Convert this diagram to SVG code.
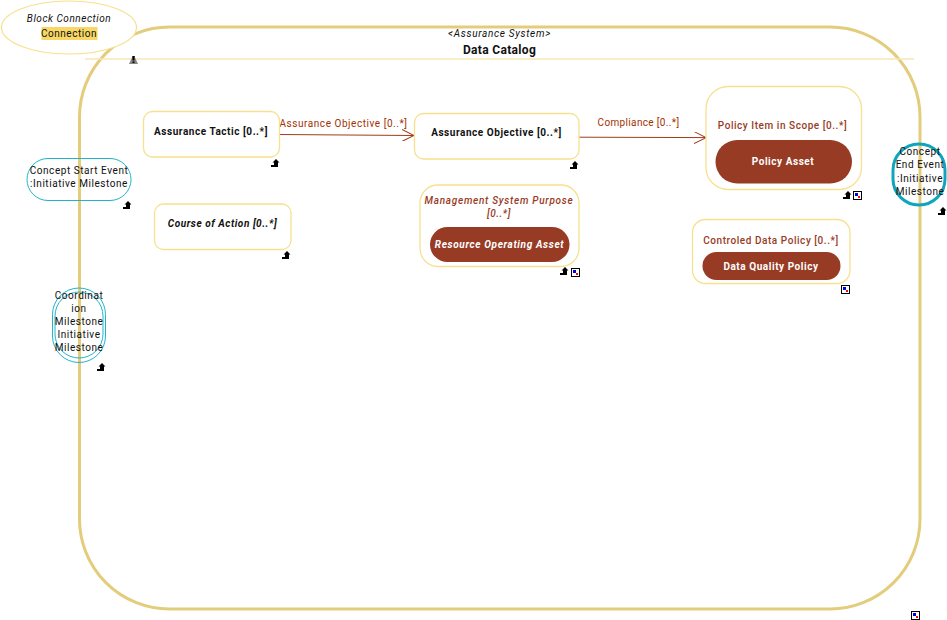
<svg xmlns="http://www.w3.org/2000/svg" width="947" height="620" viewBox="0 0 947 620">
<style>
text{font-family:Roboto,"Liberation Sans",sans-serif;font-size:10px;text-anchor:middle;letter-spacing:.55px;fill:#111}
.b{font-weight:700}.i{font-style:italic}
.box{fill:#fff;stroke:#f7e08f;stroke-width:1.3}
.pill{fill:#973b25}
.w{fill:#fff;font-weight:700}
.r{fill:#973b25;font-weight:500}
.lab{fill:#a33000}
.ms{fill:none;stroke:#22b3cc;stroke-width:1}
.conn{fill:none;stroke:#a33a1c;stroke-width:1}
</style>
<defs>
<g id="up"><path d="M0 7V5H3V2.500H1.500L5 -1L8.500 2.500H7V7Z" fill="#000"/></g>
<g id="sq"><rect x="0.500" y="0.500" width="8" height="8" fill="#fff" stroke="#000" stroke-width="1"/><rect x="2" y="2" width="3" height="3" fill="#0000e0"/><rect x="5" y="5" width="2" height="2" fill="#e01010"/></g>
<marker id="arr" markerWidth="13" markerHeight="12" refX="12" refY="6" orient="auto" markerUnits="userSpaceOnUse"><path d="M0 0L12 6L0 12" fill="none" stroke="#a33a1c" stroke-width="1"/></marker>
</defs>
<g id="data-catalog">
<rect x="79.500" y="27" width="840.500" height="582" rx="90" ry="90" fill="#fff" stroke="#e3cd7c" stroke-width="3"/>
<path d="M85 59H914" stroke="#f6e7b5" stroke-width="1.500" fill="none"/>
<text x="499.500" y="37" class="i" style="letter-spacing:.7px">&lt;Assurance System&gt;</text>
<text x="499.500" y="54" class="b" style="font-size:12px;letter-spacing:.33px">Data Catalog</text>
<path d="M129 64L132 57.500V56H135V57.500L138 64Z" fill="#888"/>
<path d="M132.500 56H134.500V60.500H132.500ZM132.500 61.500H134.500V63H132.500Z" fill="#000"/>
<use href="#sq" x="911" y="611"/>
</g>
<g id="block-connection">
<ellipse cx="69" cy="27.500" rx="67.500" ry="26.500" fill="#fff" stroke="#f7e08f" stroke-width="1.200"/>
<text x="69" y="21.500" class="i">Block Connection</text>
<rect x="41.500" y="27" width="56" height="13" fill="#f8d765"/>
<text x="69" y="37">Connection</text>
</g>
<g id="connectors">
<path class="conn" d="M279 134.500L414 135.500" marker-end="url(#arr)"/>
<path class="conn" d="M579 137.200L706 137.600" marker-end="url(#arr)"/>
<text x="343.500" y="127" class="lab">Assurance Objective [0..*]</text>
<text x="638.500" y="126" class="lab" style="letter-spacing:.35px">Compliance [0..*]</text>
</g>
<g id="assurance-tactic">
<rect class="box" x="143.500" y="111.500" width="136" height="45.500" rx="9"/>
<text x="211" y="135" class="b">Assurance Tactic [0..*]</text>
<use href="#up" x="271" y="160"/>
</g>
<g id="assurance-objective">
<rect class="box" x="414.500" y="113.500" width="164.500" height="45.500" rx="9"/>
<text x="496.500" y="136" class="b">Assurance Objective [0..*]</text>
<use href="#up" x="570" y="162"/>
</g>
<g id="policy-item">
<rect class="box" x="706" y="86.500" width="155.500" height="103" rx="22"/>
<text x="782.500" y="129" class="r">Policy Item in Scope [0..*]</text>
<rect class="pill" x="715.500" y="140" width="136.500" height="43.500" rx="21.750"/>
<text x="783" y="165" class="w">Policy Asset</text>
<use href="#up" x="843" y="192"/>
<use href="#sq" x="853" y="191"/>
</g>
<g id="course-of-action">
<rect class="box" x="154.500" y="204" width="136.500" height="45.500" rx="9"/>
<text x="222.500" y="227" class="b i">Course of Action [0..*]</text>
<use href="#up" x="282" y="252"/>
</g>
<g id="management-system-purpose">
<rect class="box" x="420" y="185" width="159" height="81.500" rx="18"/>
<text x="499" y="204" class="r i" style="letter-spacing:.72px">Management System Purpose</text>
<text x="499" y="217" class="r i">[0..*]</text>
<rect class="pill" x="430" y="227" width="139.500" height="35" rx="17.500"/>
<text x="499.500" y="248" class="w i" style="letter-spacing:.65px">Resource Operating Asset</text>
<use href="#up" x="560" y="268"/>
<use href="#sq" x="571" y="268"/>
</g>
<g id="controled-data-policy">
<rect class="box" x="692.500" y="219.500" width="157.500" height="64" rx="13"/>
<text x="771" y="244" class="r">Controled Data Policy [0..*]</text>
<rect class="pill" x="702.500" y="252" width="138" height="28" rx="14"/>
<text x="771" y="270" class="w">Data Quality Policy</text>
<use href="#sq" x="841" y="285"/>
</g>
<g id="concept-start">
<rect class="ms" x="27" y="158.500" width="104" height="42" rx="21"/>
<text x="79" y="174">Concept Start Event</text>
<text x="79" y="187">:Initiative Milestone</text>
<use href="#up" x="123" y="202"/>
</g>
<g id="coordination">
<rect class="ms" x="52.500" y="288" width="53" height="74.500" rx="26.500"/>
<rect class="ms" x="55" y="292" width="48" height="66" rx="24"/>
<text x="79" y="299">Coordinat</text>
<text x="79" y="312">ion</text>
<text x="79" y="325">Milestone</text>
<text x="79" y="338">Initiative</text>
<text x="79" y="351">Milestone</text>
<use href="#up" x="97" y="364"/>
</g>
<g id="concept-end">
<rect x="893" y="144" width="52" height="61" rx="26" fill="none" stroke="#0ea5bd" stroke-width="3"/>
<text x="920" y="155">Concept</text>
<text x="920" y="168">End Event</text>
<text x="920" y="182">:Initiative</text>
<text x="920" y="195">Milestone</text>
<use href="#up" x="938" y="208"/>
</g>
</svg>
